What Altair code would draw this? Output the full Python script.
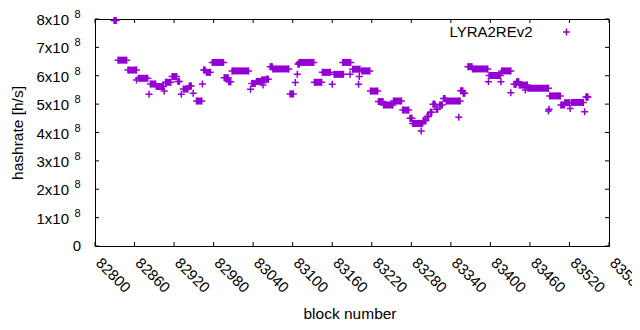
import altair as alt
import pandas as pd

series_name = "LYRA2REv2"
PURPLE = "#9400D3"
FONT = "Liberation Sans"

# runs of consecutive blocks with (nearly) constant hashrate
run_start = [82829, 82835, 82850, 82866, 82884, 82893, 82907, 82917, 82926, 82934,
             82943, 82954, 82965, 82969, 82978, 82996, 83003, 83008, 83038, 83045,
             83053, 83060, 83066, 83070, 83096, 83108, 83110, 83133, 83145, 83163,
             83176, 83191, 83205, 83218, 83230, 83238, 83253, 83267, 83278, 83282,
             83298, 83304, 83309, 83313, 83318, 83323, 83329, 83333, 83355, 83359,
             83366, 83373, 83398, 83417, 83436, 83440, 83444, 83457, 83490, 83507,
             83513, 83523, 83545]
run_end = [82832, 82848, 82863, 82880, 82892, 82904, 82915, 82924, 82928, 82941,
           82946, 82962, 82967, 82975, 82995, 83002, 83006, 83033, 83043, 83052,
           83058, 83063, 83069, 83094, 83101, 83110, 83132, 83144, 83157, 83177,
           83188, 83202, 83217, 83229, 83237, 83252, 83265, 83276, 83281, 83297,
           83302, 83306, 83311, 83316, 83320, 83327, 83331, 83354, 83358, 83361,
           83372, 83396, 83415, 83431, 83439, 83443, 83456, 83488, 83506, 83512,
           83520, 83541, 83547]
run_value = [7.95e8, 6.55e8, 6.20e8, 5.91e8, 5.71e8, 5.62e8, 5.77e8, 5.97e8, 5.80e8, 5.53e8,
             5.64e8, 5.11e8, 6.20e8, 6.12e8, 6.47e8, 5.93e8, 5.79e8, 6.17e8, 5.73e8, 5.80e8,
             5.85e8, 5.88e8, 6.32e8, 6.24e8, 5.36e8, 6.41e8, 6.47e8, 5.77e8, 6.12e8, 6.05e8,
             6.47e8, 6.23e8, 6.17e8, 5.46e8, 5.09e8, 4.97e8, 5.11e8, 4.79e8, 4.50e8, 4.32e8,
             4.41e8, 4.56e8, 4.71e8, 5.00e8, 4.82e8, 4.97e8, 5.20e8, 5.11e8, 5.47e8, 5.38e8,
             6.32e8, 6.24e8, 6.01e8, 6.17e8, 5.70e8, 5.79e8, 5.67e8, 5.56e8, 5.29e8, 4.97e8,
             5.05e8, 5.06e8, 5.25e8]

# isolated blocks
point_block = [82863, 82882, 82905, 82931, 82949, 82963, 83036, 83055, 83104, 83107,
               83160, 83187, 83200, 83201, 83295, 83352, 83397, 83416, 83431, 83453,
               83488, 83489, 83521, 83543, 83548]
point_value = [5.85e8, 5.35e8, 5.46e8, 5.35e8, 5.38e8, 5.71e8, 5.52e8, 5.67e8, 5.76e8, 6.05e8,
               5.70e8, 6.05e8, 5.70e8, 5.97e8, 4.05e8, 4.54e8, 5.79e8, 5.79e8, 5.40e8, 5.50e8,
               4.76e8, 4.82e8, 4.85e8, 4.73e8, 5.25e8]

x_ticks = [82800, 82860, 82920, 82980, 83040, 83100, 83160, 83220, 83280, 83340,
           83400, 83460, 83520, 83580]
y_ticks = [0, 1e8, 2e8, 3e8, 4e8, 5e8, 6e8, 7e8, 8e8]
y_tick_main = ["0", "1x10", "2x10", "3x10", "4x10", "5x10", "6x10", "7x10", "8x10"]
y_tick_sup = ["", "8", "8", "8", "8", "8", "8", "8", "8"]

W, H = 514, 227
CROSS = "M-1,0H1M0,-1V1"

runs_df = pd.DataFrame({"start": run_start, "end": run_end, "value": run_value})
pts_df = pd.DataFrame({"start": point_block, "value": point_value})
xt_df = pd.DataFrame({"start": x_ticks})
yt_df = pd.DataFrame({"value": y_ticks, "main": y_tick_main, "sup": y_tick_sup})
yl_df = yt_df[yt_df["sup"] != ""]
y0_df = yt_df[yt_df["sup"] == ""]

xscale = alt.Scale(domain=[82800, 83580], nice=False, zero=False)
yscale = alt.Scale(domain=[0, 8e8], nice=False, zero=True)

xaxis = alt.Axis(title="block number", values=x_ticks, format="d", labelAngle=45,
                 labelAlign="left", labelBaseline="middle", labelPadding=14, labelOffset=3,
                 labelFlush=False, labelOverlap=False, ticks=False, grid=False, domain=False,
                 labelFont=FONT, labelFontSize=15, labelColor="black",
                 titleFont=FONT, titleFontSize=15.5, titleFontWeight="normal", titleColor="black",
                 titleX=254.5, titleY=72, titleAlign="center", titleBaseline="alphabetic")
yaxis = alt.Axis(title="hashrate [h/s]", values=y_ticks, labels=False,
                 ticks=False, grid=False, domain=False,
                 titleFont=FONT, titleFontSize=15.5, titleFontWeight="normal", titleColor="black",
                 titleX=-78, titleY=113.5, titleAngle=-90, titleAlign="center",
                 titleBaseline="middle")

X = alt.X("start:Q", scale=xscale, axis=xaxis)
Y = alt.Y("value:Q", scale=yscale, axis=yaxis)

pt_style = dict(shape=CROSS, size=49, filled=False, strokeWidth=1.5, color=PURPLE, opacity=1)
lab_style = dict(font=FONT, color="black", baseline="middle")

run_bars = alt.Chart(runs_df).mark_rule(color=PURPLE, strokeWidth=7, strokeCap="butt").encode(
    x=X, x2="end:Q", y=Y)
run_first = alt.Chart(runs_df).mark_point(**pt_style).encode(x=X, y=Y)
run_last = alt.Chart(runs_df).mark_point(**pt_style).encode(
    x=alt.X("end:Q", scale=xscale, axis=xaxis), y=Y)
singles = alt.Chart(pts_df).mark_point(**pt_style).encode(x=X, y=Y)

xt_bottom = alt.Chart(xt_df).mark_rule(color="black", strokeWidth=1).encode(
    x=X, y=alt.value(H), y2=alt.value(H - 4))
xt_top = alt.Chart(xt_df).mark_rule(color="black", strokeWidth=1).encode(
    x=X, y=alt.value(0), y2=alt.value(4))
yt_left = alt.Chart(yt_df).mark_rule(color="black", strokeWidth=1).encode(
    y=Y, x=alt.value(0), x2=alt.value(4))
yt_right = alt.Chart(yt_df).mark_rule(color="black", strokeWidth=1).encode(
    y=Y, x=alt.value(W), x2=alt.value(W - 4))

# y tick labels "Nx10^8"
ylab_main = alt.Chart(yl_df).mark_text(align="right", fontSize=15, dy=1, **lab_style).encode(
    y=Y, x=alt.value(-26), text="main:N")
ylab_sup = alt.Chart(yl_df).mark_text(align="left", fontSize=11, dy=-4, **lab_style).encode(
    y=Y, x=alt.value(-20.5), text="sup:N")
ylab_zero = alt.Chart(y0_df).mark_text(align="right", fontSize=15, dy=0, **lab_style).encode(
    y=Y, x=alt.value(-14), text="main:N")

leg_df = pd.DataFrame({"name": [series_name]})
leg_text = alt.Chart(leg_df).mark_text(align="right", baseline="middle", font=FONT,
                                       fontSize=15, color="black").encode(
    x=alt.value(437.5), y=alt.value(13), text="name:N")
leg_mark = alt.Chart(leg_df).mark_point(**pt_style).encode(
    x=alt.value(471.5), y=alt.value(13))

chart = alt.layer(
    xt_bottom, xt_top, yt_left, yt_right, ylab_main, ylab_sup, ylab_zero,
    run_bars, run_first, run_last, singles, leg_text, leg_mark
).properties(
    width=W, height=H,
    autosize=alt.AutoSizeParams(type="none"),
    padding={"left": 87, "top": 11, "right": 23, "bottom": 76},
    background="white",
).configure_view(stroke="black", strokeWidth=1)

chart.save("out.html", embed_options={"renderer": "svg", "actions": False})
